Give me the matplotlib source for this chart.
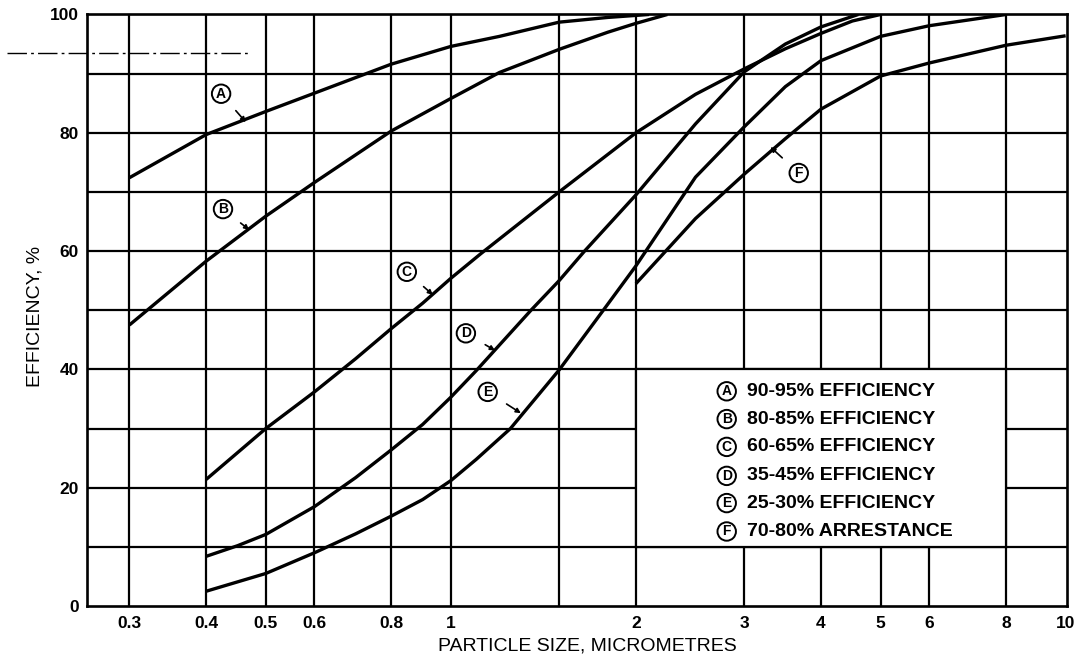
import matplotlib.pyplot as plt
from matplotlib.lines import Line2D
from matplotlib.patches import Rectangle
from matplotlib.ticker import NullLocator

plt.rcParams['font.family'] = ['Liberation Sans', 'DejaVu Sans']

# curves (particle size in micrometres, efficiency %)
a_x = [0.3, 0.4, 0.5, 0.6, 0.8, 1.0, 1.2, 1.5, 1.8, 2.1]
a_y = [72.4, 79.7, 83.6, 86.7, 91.6, 94.6, 96.3, 98.7, 99.5, 100]

b_x = [0.3, 0.4, 0.5, 0.6, 0.8, 1.0, 1.2, 1.5, 1.8, 2.0, 2.25]
b_y = [47.5, 58.3, 65.9, 71.6, 80.3, 85.8, 90.2, 94.1, 97.0, 98.5, 100]

c_x = [0.4, 0.5, 0.6, 0.7, 0.8, 0.9, 1.0, 1.12, 1.5, 2.0, 2.5, 3.0, 3.5, 4.0, 4.5, 5.0]
c_y = [21.4, 30.0, 36.2, 41.8, 46.9, 51.2, 55.4, 59.6, 70.0, 80.0, 86.5, 90.8, 94.2, 96.8, 98.9, 100]

d_x = [0.4, 0.45, 0.5, 0.6, 0.7, 0.8, 0.9, 1.0, 1.1, 1.35, 1.5, 1.65, 2.0, 2.5, 3.0, 3.5, 4.0, 4.6]
d_y = [8.4, 10.2, 12.1, 16.8, 21.7, 26.4, 30.7, 35.3, 39.8, 50.0, 55.0, 60.0, 69.5, 81.5, 90.3, 95.0, 97.9, 100]

e_x = [0.4, 0.5, 0.6, 0.7, 0.8, 0.9, 1.0, 1.1, 1.25, 1.5, 1.77, 2.0, 2.5, 3.0, 3.5, 4.0, 5.0, 6.0, 8.0]
e_y = [2.5, 5.5, 9.0, 12.2, 15.2, 18.0, 21.2, 24.8, 30.0, 39.9, 50.0, 57.5, 72.5, 81.0, 87.8, 92.2, 96.3, 98.1, 100]

f_x = [2.0, 2.5, 3.0, 3.5, 4.0, 5.0, 6.0, 8.0, 10.0]
f_y = [54.5, 65.5, 73.0, 79.0, 84.0, 89.6, 91.8, 94.8, 96.4]

curves = [(a_x, a_y), (b_x, b_y), (c_x, c_y), (d_x, d_y), (e_x, e_y), (f_x, f_y)]

letters = ['A', 'B', 'C', 'D', 'E', 'F']
legend_text = ['90-95% EFFICIENCY', '80-85% EFFICIENCY', '60-65% EFFICIENCY',
               '35-45% EFFICIENCY', '25-30% EFFICIENCY', '70-80% ARRESTANCE']
leg_y = [36.3, 31.6, 26.9, 22.0, 17.4, 12.6]

# circled label position and arrow tip for each curve
label_pos = [(0.423, 86.6), (0.426, 67.1), (0.848, 56.5), (1.058, 46.1), (1.148, 36.2), (3.68, 73.2)]
arrow_tip = [(0.464, 81.8), (0.47, 63.6), (0.935, 52.6), (1.18, 43.2), (1.30, 32.6), (3.31, 77.6)]

x_grid = [0.3, 0.4, 0.5, 0.6, 0.8, 1, 1.5, 2, 3, 4, 5, 6, 8]
x_ticks = [0.3, 0.4, 0.5, 0.6, 0.8, 1, 2, 3, 4, 5, 6, 8, 10]
x_labels = ['0.3', '0.4', '0.5', '0.6', '0.8', '1', '2', '3', '4', '5', '6', '8', '10']
y_grid = [10, 20, 30, 40, 50, 60, 70, 80, 90]
y_ticks = [0, 20, 40, 60, 80, 100]

fig = plt.figure(figsize=(10.85, 6.58), dpi=100)
ax = fig.add_axes([0.0802, 0.079, 0.9032, 0.899])
ax.set_xscale('log')
ax.set_xlim(0.256, 10.05)
ax.set_ylim(0, 100)

for gx in x_grid:
    ax.axvline(gx, color='black', lw=1.6, zorder=0.5)
for gy in y_grid:
    ax.axhline(gy, color='black', lw=1.6, zorder=0.5)

# legend box sits over the grid between 2 and 8, 10 and 40
ax.add_patch(Rectangle((2, 10), 6, 30, facecolor='white', edgecolor='black', lw=1.6, zorder=1))

for cx, cy in curves:
    ax.plot(cx, cy, color='black', lw=2.4, solid_capstyle='butt', solid_joinstyle='round', zorder=3)

circ = dict(boxstyle='circle,pad=0.16', facecolor='white', edgecolor='black', lw=1.4)
for letter, pos, tip in zip(letters, label_pos, arrow_tip):
    ax.annotate(letter, xy=tip, xytext=pos, ha='center', va='center',
                fontsize=10, fontweight='bold', bbox=circ, zorder=4,
                arrowprops=dict(arrowstyle='-|>', color='black', lw=1.2,
                                mutation_scale=7, shrinkA=9, shrinkB=0))

for letter, txt, ly in zip(letters, legend_text, leg_y):
    ax.text(2.81, ly, letter, ha='center', va='center', fontsize=10,
            fontweight='bold', bbox=circ, zorder=4)
    ax.text(3.03, ly, txt, ha='left', va='center', fontsize=14,
            fontweight='bold', zorder=4)

ax.set_xticks(x_ticks)
ax.set_xticklabels(x_labels)
ax.xaxis.set_minor_locator(NullLocator())
ax.set_yticks(y_ticks)
ax.tick_params(length=0, labelsize=12.5)
ax.tick_params(axis='x', pad=7)
ax.tick_params(axis='y', pad=6)
for lab in ax.get_xticklabels() + ax.get_yticklabels():
    lab.set_fontweight('bold')

for sp in ax.spines.values():
    sp.set_linewidth(1.9)

ax.set_xlabel('PARTICLE SIZE, MICROMETRES', fontsize=14)
ax.xaxis.set_label_coords(0.511, -0.053)
ax.set_ylabel('EFFICIENCY, %', fontsize=14)
ax.yaxis.set_label_coords(-0.044, 0.49)

# dash-dot mark at the upper left margin
fig.add_artist(Line2D([7 / 1085, 250 / 1085], [0.919, 0.919], transform=fig.transFigure,
                      color='black', lw=1.0, ls=(0, (14, 3, 2, 3))))

fig.savefig('out.png', dpi=100)
